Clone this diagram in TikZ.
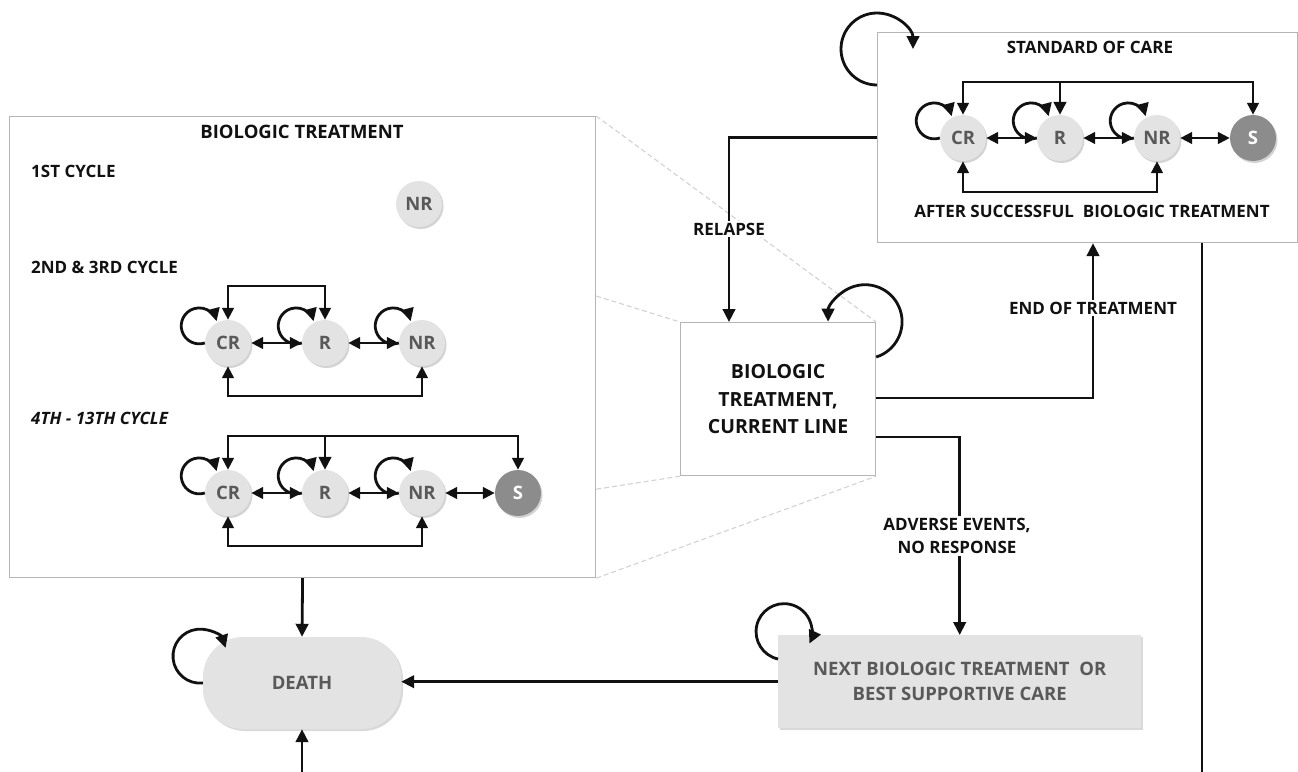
\documentclass[tikz,border=0pt]{standalone}
\usepackage{fontspec}
\setmainfont{Open Sans}
\usetikzlibrary{arrows.meta,shadows,calc}
\definecolor{stfill}{HTML}{E3E3E3}
\definecolor{sttext}{HTML}{595959}
\definecolor{sfill}{HTML}{8C8C8C}
\definecolor{framegray}{HTML}{B5B5B5}
\definecolor{zoomgray}{HTML}{D2D2D2}
\definecolor{ink}{HTML}{111111}
\begin{document}
\begin{tikzpicture}[x=1pt,y=1pt,
  arr/.style={line width=2.8pt, draw=ink, -{Triangle[length=13pt,width=12.5pt]}},
  barr/.style={line width=2.8pt, draw=ink, {Triangle[length=12pt,width=11.5pt]}-{Triangle[length=12pt,width=11.5pt]}},
  plainline/.style={line width=2.8pt, draw=ink},
  state/.style={circle, minimum size=46pt, inner sep=0pt, fill=stfill, text=sttext,
    font=\fontsize{18.5}{20}\selectfont\bfseries,
    drop shadow={shadow xshift=1.5pt, shadow yshift=-2pt, opacity=.35}},
  sstate/.style={state, fill=sfill, text=white},
  lbl/.style={font=\fontsize{17}{23}\selectfont\bfseries, align=center, fill=white, inner sep=2pt, text=ink},
  head/.style={font=\fontsize{17}{20}\selectfont\bfseries, text=ink, inner sep=0pt},
  frame/.style={draw=framegray, line width=1.2pt, inner sep=0pt},
  zoomline/.style={draw=zoomgray, line width=1.1pt, dash pattern=on 5pt off 3pt},
]
\useasboundingbox (0,0) rectangle (1298,-771);

% ---------- frames ----------
\node[frame, anchor=north west, minimum width=586pt, minimum height=461pt] (bio) at (9,-116) {};
\node[frame, anchor=north west, minimum width=420pt, minimum height=210pt] (soc) at (877,-32) {};
\node[frame, anchor=north west, minimum width=195pt, minimum height=153pt, align=center,
  font=\fontsize{19.5}{27.5}\selectfont\bfseries, text=ink] (cur) at (680,-322) {BIOLOGIC\\TREATMENT,\\CURRENT LINE};

% ---------- zoom lines ----------
\draw[zoomline] (bio.north east) -- (cur.north east);
\draw[zoomline] ($(bio.north east)+(0,-180)$) -- (cur.north west);
\draw[zoomline] ($(bio.south east)+(0,89)$) -- (cur.south west);
\draw[zoomline] (bio.south east) -- (cur.south east);

% ---------- other main nodes ----------
\node[fill=stfill, anchor=north west, minimum width=363pt, minimum height=93pt, align=center,
  text=sttext, font=\fontsize{18.5}{25}\selectfont\bfseries,
  drop shadow={shadow xshift=2pt, shadow yshift=-2pt, opacity=.3}] (nxt) at (778,-635)
  {NEXT BIOLOGIC TREATMENT\ \ OR\\BEST SUPPORTIVE CARE};
\node[fill=stfill, rounded corners=40pt, minimum width=198pt, minimum height=92pt,
  text=sttext, font=\fontsize{18.5}{20}\selectfont\bfseries,
  drop shadow={shadow xshift=2pt, shadow yshift=-2pt, opacity=.3}] (death) at (302,-683) {DEATH};

% ---------- biologic treatment box contents ----------
\node[head, font=\fontsize{18.5}{20}\selectfont\bfseries] (bioh) at (302,-132) {BIOLOGIC TREATMENT};
\node[head, anchor=west] (cyc1) at (31,-171) {1ST CYCLE};
\node[head, anchor=west] (cyc2) at (31,-267) {2ND \& 3RD CYCLE};
\node[head, anchor=west, font=\fontsize{17}{20}\selectfont\bfseries\itshape] (cyc3) at (31,-418) {4TH - 13TH CYCLE};

\node[state] (n1) at (419,-204) {NR};

\node[state] (c2) at (228,-343) {CR};
\node[state] (r2) at (325,-343) {R};
\node[state] (n2) at (422,-343) {NR};
\draw[barr] (c2) -- (r2);
\draw[barr] (r2) -- (n2);
\draw[barr] (c2.north) -- (c2.north |- 0,-286) -| (r2.north);
\draw[barr] (c2.south) -- (c2.south |- 0,-396) -| (n2.south);
\foreach \nd in {c2,r2,n2}
  \draw[arr] (\nd.west) arc[start angle=-72, end angle=-345, radius=18];

\node[state] (c3) at (228,-493) {CR};
\node[state] (r3) at (325,-493) {R};
\node[state] (n3) at (422,-493) {NR};
\node[sstate] (s3) at (518,-493) {S};
\draw[barr] (c3) -- (r3);
\draw[barr] (r3) -- (n3);
\draw[barr] (n3) -- (s3);
\draw[barr] (c3.north) -- (c3.north |- 0,-436) coordinate (t3) -| (s3.north);
\draw[arr] (r3.north |- t3) -- (r3.north);
\draw[barr] (c3.south) -- (c3.south |- 0,-546) -| (n3.south);
\foreach \nd in {c3,r3,n3}
  \draw[arr] (\nd.west) arc[start angle=-72, end angle=-345, radius=18];

% ---------- standard of care contents ----------
\node[head] (soch) at (1090,-47) {STANDARD OF CARE};
\node[head] (socf) at (1092,-211) {AFTER SUCCESSFUL\ \ BIOLOGIC TREATMENT};
\node[state] (c4) at (963,-138) {CR};
\node[state] (r4) at (1060,-138) {R};
\node[state] (n4) at (1157,-138) {NR};
\node[sstate] (s4) at (1253,-138) {S};
\draw[barr] (c4) -- (r4);
\draw[barr] (r4) -- (n4);
\draw[barr] (n4) -- (s4);
\draw[barr] (c4.north) -- (c4.north |- 0,-82) coordinate (t4) -| (s4.north);
\draw[arr] (r4.north |- t4) -- (r4.north);
\draw[barr] (c4.south) -- (c4.south |- 0,-192) -| (n4.south);
\foreach \nd in {c4,r4,n4}
  \draw[arr] (\nd.west) arc[start angle=-72, end angle=-345, radius=18];

% ---------- connectors ----------
\draw[arr] (soc.west) -| ($(cur.north west)+(49,0)$);
\node[lbl] (relapse) at (729,-229) {RELAPSE};

\draw[arr] ($(cur.north east)+(0,-76)$) -| ($(soc.south west)+(216,0)$);
\node[lbl] (eot) at (1093,-308) {END OF TREATMENT};

\draw[arr] ($(cur.north east)+(0,-115)$) -| (nxt.north);
\node[lbl] (ae) at (957,-536) {ADVERSE EVENTS,\\NO RESPONSE};

\coordinate (bot2) at (1202,-775);
\draw[plainline] ($(soc.south west)+(325,0)$) -- (bot2);

\draw[arr] (bio.south) -- (death.north);
\coordinate (bot1) at (302,-775);
\draw[arr] (bot1) -- (death.south);
\draw[arr] (nxt.west) -- (nxt.west -| death.east);

% ---------- self loops ----------
\draw[arr] ($(soc.north west)+(0,-53)$) arc[start angle=-90, end angle=-360, radius=36];
\draw[arr] ($(cur.north east)+(0,-35)$) arc[start angle=-72.5, end angle=180, radius=37];
\draw[arr] ($(nxt.north west)+(0,-24)$) arc[start angle=-102.5, end angle=-385, radius=28];
\draw[arr] (death.west) arc[start angle=-84, end angle=-342, radius=27];
\end{tikzpicture}
\end{document}
